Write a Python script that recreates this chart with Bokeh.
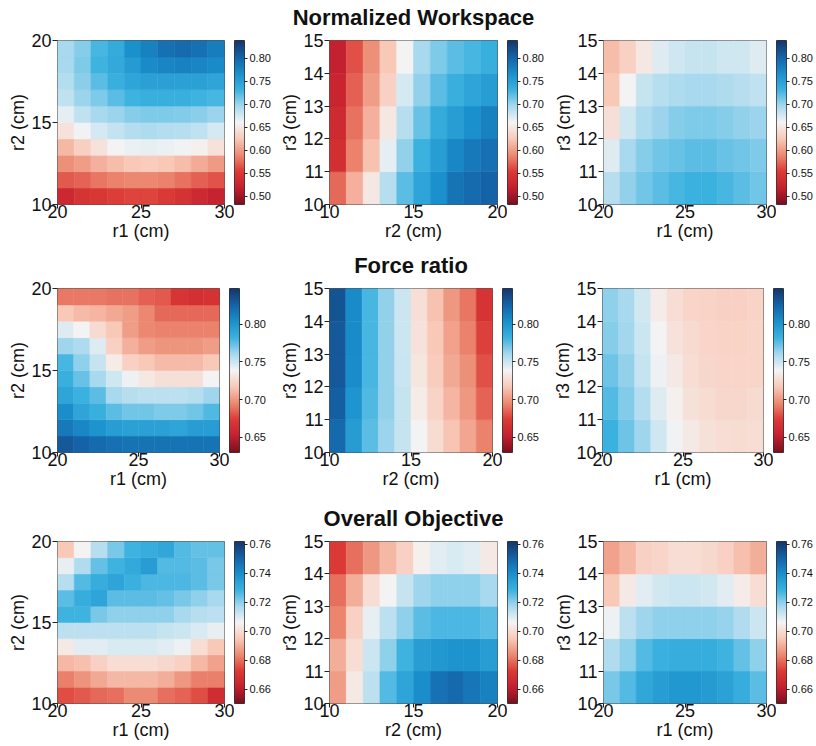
import numpy as np
from bokeh.plotting import figure
from bokeh.models import (LinearColorMapper, FixedTicker, PrintfTickFormatter,
                          ColumnDataSource, Range1d, Title)
from bokeh.layouts import row, column
from bokeh.embed import file_html
from bokeh.resources import INLINE

# ---------------- data ----------------
r1_edges = [20, 21, 22, 23, 24, 25, 26, 27, 28, 29, 30]
r2_edges = [10, 11, 12, 13, 14, 15, 16, 17, 18, 19, 20]
r3_edges = [10, 11, 12, 13, 14, 15]

r1_ticks = [20, 25, 30]
r2_ticks = [10, 15, 20]
r3_ticks = [10, 11, 12, 13, 14, 15]

row_titles = ["Normalized Workspace", "Force ratio", "Overall Objective"]

# value grids: rows listed from the TOP of each panel (highest y) downward
ws_r1_r2 = [
    [0.696, 0.706, 0.728, 0.738, 0.767, 0.777, 0.792, 0.795, 0.792, 0.781],
    [0.696, 0.71, 0.73, 0.74, 0.755, 0.77, 0.775, 0.778, 0.775, 0.77],
    [0.69, 0.705, 0.72, 0.735, 0.745, 0.75, 0.75, 0.75, 0.75, 0.745],
    [0.685, 0.70, 0.71, 0.72, 0.73, 0.735, 0.735, 0.735, 0.73, 0.728],
    [0.668, 0.685, 0.695, 0.70, 0.707, 0.71, 0.71, 0.708, 0.705, 0.70],
    [0.645, 0.662, 0.675, 0.683, 0.69, 0.692, 0.69, 0.688, 0.684, 0.675],
    [0.615, 0.63, 0.645, 0.66, 0.665, 0.666, 0.665, 0.662, 0.657, 0.645],
    [0.592, 0.60, 0.61, 0.618, 0.624, 0.628, 0.624, 0.618, 0.608, 0.598],
    [0.567, 0.572, 0.58, 0.585, 0.588, 0.588, 0.585, 0.578, 0.57, 0.565],
    [0.528, 0.545, 0.55, 0.555, 0.558, 0.558, 0.552, 0.543, 0.53, 0.522],
]
ws_r2_r3 = [
    [0.518, 0.564, 0.592, 0.624, 0.66, 0.696, 0.71, 0.72, 0.728, 0.735],
    [0.525, 0.571, 0.60, 0.632, 0.674, 0.703, 0.72, 0.735, 0.745, 0.752],
    [0.532, 0.578, 0.61, 0.649, 0.688, 0.717, 0.738, 0.752, 0.767, 0.777],
    [0.539, 0.585, 0.621, 0.667, 0.703, 0.731, 0.752, 0.774, 0.785, 0.792],
    [0.575, 0.61, 0.649, 0.688, 0.72, 0.745, 0.767, 0.788, 0.795, 0.802],
]
ws_r1_r3 = [
    [0.617, 0.632, 0.649, 0.671, 0.678, 0.681, 0.681, 0.678, 0.678, 0.671],
    [0.624, 0.66, 0.681, 0.688, 0.692, 0.696, 0.696, 0.692, 0.688, 0.685],
    [0.642, 0.678, 0.692, 0.699, 0.706, 0.71, 0.71, 0.706, 0.703, 0.699],
    [0.671, 0.696, 0.706, 0.713, 0.717, 0.72, 0.72, 0.717, 0.713, 0.71],
    [0.688, 0.703, 0.713, 0.72, 0.728, 0.731, 0.731, 0.728, 0.72, 0.713],
]

fr_r1_r2 = [
    [0.691, 0.691, 0.691, 0.689, 0.689, 0.684, 0.682, 0.669, 0.665, 0.667],
    [0.717, 0.712, 0.71, 0.706, 0.702, 0.695, 0.686, 0.686, 0.686, 0.686],
    [0.745, 0.738, 0.725, 0.717, 0.702, 0.695, 0.693, 0.693, 0.693, 0.693],
    [0.762, 0.758, 0.745, 0.721, 0.708, 0.702, 0.699, 0.699, 0.699, 0.702],
    [0.78, 0.765, 0.752, 0.734, 0.721, 0.717, 0.712, 0.712, 0.712, 0.717],
    [0.784, 0.773, 0.76, 0.749, 0.741, 0.732, 0.728, 0.728, 0.728, 0.739],
    [0.791, 0.782, 0.775, 0.76, 0.756, 0.754, 0.754, 0.754, 0.756, 0.762],
    [0.804, 0.791, 0.784, 0.775, 0.771, 0.771, 0.769, 0.769, 0.771, 0.778],
    [0.814, 0.808, 0.801, 0.795, 0.793, 0.793, 0.793, 0.791, 0.795, 0.795],
    [0.83, 0.825, 0.821, 0.819, 0.817, 0.817, 0.817, 0.817, 0.817, 0.817],
]
fr_r2_r3 = [
    [0.832, 0.806, 0.78, 0.764, 0.75, 0.728, 0.714, 0.70, 0.69, 0.668],
    [0.83, 0.806, 0.78, 0.764, 0.75, 0.73, 0.717, 0.703, 0.693, 0.675],
    [0.83, 0.805, 0.78, 0.764, 0.751, 0.731, 0.719, 0.706, 0.697, 0.68],
    [0.827, 0.80, 0.778, 0.764, 0.752, 0.734, 0.722, 0.71, 0.70, 0.685],
    [0.822, 0.796, 0.775, 0.763, 0.752, 0.738, 0.726, 0.715, 0.705, 0.693],
]
fr_r1_r3 = [
    [0.765, 0.76, 0.748, 0.735, 0.727, 0.723, 0.722, 0.721, 0.721, 0.722],
    [0.767, 0.761, 0.75, 0.738, 0.73, 0.725, 0.723, 0.722, 0.722, 0.723],
    [0.772, 0.764, 0.752, 0.741, 0.733, 0.727, 0.724, 0.723, 0.723, 0.723],
    [0.777, 0.768, 0.757, 0.745, 0.736, 0.729, 0.726, 0.724, 0.724, 0.725],
    [0.782, 0.772, 0.762, 0.749, 0.74, 0.733, 0.729, 0.727, 0.726, 0.727],
]

ob_r1_r2 = [
    [0.695, 0.706, 0.715, 0.722, 0.728, 0.73, 0.732, 0.726, 0.724, 0.724],
    [0.708, 0.716, 0.724, 0.728, 0.731, 0.735, 0.726, 0.726, 0.725, 0.722],
    [0.715, 0.726, 0.73, 0.733, 0.729, 0.727, 0.727, 0.727, 0.725, 0.722],
    [0.725, 0.73, 0.733, 0.725, 0.725, 0.725, 0.724, 0.722, 0.72, 0.717],
    [0.728, 0.728, 0.722, 0.72, 0.72, 0.72, 0.72, 0.717, 0.715, 0.714],
    [0.714, 0.714, 0.714, 0.714, 0.714, 0.714, 0.713, 0.712, 0.71, 0.708],
    [0.703, 0.709, 0.709, 0.71, 0.71, 0.71, 0.709, 0.707, 0.70, 0.695],
    [0.692, 0.693, 0.697, 0.70, 0.70, 0.70, 0.699, 0.697, 0.692, 0.688],
    [0.682, 0.685, 0.689, 0.692, 0.692, 0.692, 0.69, 0.686, 0.682, 0.682],
    [0.675, 0.677, 0.679, 0.68, 0.684, 0.684, 0.68, 0.678, 0.675, 0.667],
]
ob_r2_r3 = [
    [0.672, 0.68, 0.686, 0.692, 0.697, 0.705, 0.709, 0.71, 0.709, 0.703],
    [0.68, 0.69, 0.70, 0.706, 0.713, 0.718, 0.72, 0.72, 0.72, 0.717],
    [0.683, 0.697, 0.708, 0.714, 0.72, 0.725, 0.727, 0.727, 0.727, 0.725],
    [0.69, 0.70, 0.712, 0.72, 0.728, 0.735, 0.737, 0.738, 0.738, 0.735],
    [0.687, 0.703, 0.714, 0.726, 0.733, 0.74, 0.747, 0.749, 0.746, 0.743],
]
ob_r1_r3 = [
    [0.688, 0.692, 0.697, 0.698, 0.70, 0.70, 0.699, 0.697, 0.693, 0.69],
    [0.695, 0.703, 0.709, 0.711, 0.712, 0.712, 0.711, 0.709, 0.704, 0.70],
    [0.707, 0.714, 0.718, 0.72, 0.72, 0.72, 0.72, 0.719, 0.716, 0.712],
    [0.716, 0.72, 0.726, 0.729, 0.73, 0.73, 0.73, 0.728, 0.724, 0.72],
    [0.722, 0.726, 0.732, 0.735, 0.737, 0.737, 0.736, 0.734, 0.73, 0.725],
]

# colour ranges and colour-bar ticks per row
row_ranges = [(0.482, 0.838), (0.630, 0.847), (0.650, 0.762)]
row_cbar_ticks = [
    [0.50, 0.55, 0.60, 0.65, 0.70, 0.75, 0.80],
    [0.65, 0.70, 0.75, 0.80],
    [0.66, 0.68, 0.70, 0.72, 0.74, 0.76],
]

# ---------------- palette (RdBu-like, red low -> blue high) ----------------
anchors = ["#7a1020", "#c42030", "#dc3a35", "#ec8a72", "#f9c9b8", "#f4f4f4",
           "#a8d9ee", "#3cb2e0", "#1a90cc", "#1463a8", "#17366a"]


def hex2rgb(h):
    return np.array([int(h[i:i + 2], 16) for i in (1, 3, 5)], dtype=float)


anc = np.array([hex2rgb(h) for h in anchors])
pos = np.linspace(0, 1, len(anchors))
palette = []
for t in np.linspace(0, 1, 256):
    rgb = [np.interp(t, pos, anc[:, k]) for k in range(3)]
    palette.append("#%02x%02x%02x" % tuple(int(round(c)) for c in rgb))

# ---------------- layout constants (page origin at 0,0) ----------------
FONT = "Liberation Sans"
PAGE_W = 815
frame_x = [[57, 329, 603], [57, 329, 602], [57, 329, 603]]
frame_w = [[167, 168, 163], [162, 163, 161], [167, 168, 163]]
frame_h = [164, 164, 162]
TITLE_H = 30
border_top = [10, 10, 10]
border_bottom = [44, 49, 42]
CB_GAP = 10
CB_W = 10
LEFT_BORDER = 56


def style_text_axis(ax, ticks, lab):
    ax.ticker = FixedTicker(ticks=ticks)
    ax.minor_tick_line_color = None
    ax.major_tick_in = 0
    ax.axis_line_color = None
    ax.major_tick_line_color = "#222222"
    ax.major_label_text_font = FONT
    ax.major_label_text_font_size = "18px"
    ax.major_label_text_color = "#111111"
    ax.axis_label = lab
    ax.axis_label_text_font = FONT
    ax.axis_label_text_font_size = "18px"
    ax.axis_label_text_font_style = "normal"
    ax.axis_label_text_color = "#111111"


def title_strip(ri):
    fx, fw = frame_x[ri][1], frame_w[ri][1]
    t = figure(frame_width=fw, frame_height=1, output_backend="svg",
               toolbar_location=None, x_axis_location=None, y_axis_location=None,
               x_range=Range1d(0, 1), y_range=Range1d(0, 1),
               min_border_left=fx, min_border_right=PAGE_W - fx - fw,
               min_border_top=TITLE_H - 1, min_border_bottom=0)
    t.outline_line_color = None
    t.grid.visible = False
    t.add_layout(Title(text=row_titles[ri], align="center",
                       text_font=FONT, text_font_size="22px",
                       text_font_style="bold", text_color="#111111",
                       standoff=0), "above")
    return t


def panel(grid, xedges, yedges, xticks, yticks, xlabel, ylabel, ri, ci, start):
    lo, hi = row_ranges[ri]
    mapper = LinearColorMapper(palette=palette, low=lo, high=hi)
    fx, fw = frame_x[ri][ci], frame_w[ri][ci]
    p = figure(frame_width=fw, frame_height=frame_h[ri],
               output_backend="svg", toolbar_location=None,
               x_range=Range1d(xedges[0], xedges[-1]),
               y_range=Range1d(yedges[0], yedges[-1]),
               min_border_left=fx - start, min_border_right=CB_GAP,
               min_border_top=border_top[ri], min_border_bottom=border_bottom[ri])
    rows_bottom_up = grid[::-1]
    left, right, bottom, top, val = [], [], [], [], []
    for j, rr in enumerate(rows_bottom_up):
        for i, v in enumerate(rr):
            left.append(xedges[i]); right.append(xedges[i + 1])
            bottom.append(yedges[j]); top.append(yedges[j + 1])
            val.append(v)
    src = ColumnDataSource(dict(left=left, right=right, bottom=bottom, top=top, v=val))
    p.quad(left="left", right="right", bottom="bottom", top="top", source=src,
           fill_color={"field": "v", "transform": mapper},
           line_color={"field": "v", "transform": mapper}, line_width=0.5)
    p.grid.visible = False
    p.outline_line_color = "#555555"
    p.outline_line_width = 1
    style_text_axis(p.xaxis[0], xticks, xlabel)
    style_text_axis(p.yaxis[0], yticks, ylabel)
    p.xaxis[0].major_tick_out = 4
    p.xaxis[0].major_label_standoff = -4
    p.xaxis[0].axis_label_standoff = 0
    p.yaxis[0].major_tick_out = 5
    p.yaxis[0].major_label_standoff = 1
    p.yaxis[0].axis_label_standoff = 0

    # colour bar as its own narrow plot
    cb_x = fx + fw + CB_GAP
    nxt = frame_x[ri][ci + 1] - LEFT_BORDER if ci < 2 else PAGE_W
    cb = figure(frame_width=CB_W, frame_height=frame_h[ri],
                output_backend="svg", toolbar_location=None,
                x_range=Range1d(0, 1), y_range=Range1d(lo, hi),
                x_axis_location=None, y_axis_location="right",
                min_border_left=0, min_border_right=nxt - cb_x - CB_W,
                min_border_top=border_top[ri], min_border_bottom=border_bottom[ri])
    grad = np.linspace(lo, hi, 256).reshape(256, 1)
    cb.image(image=[grad], x=0, y=lo, dw=1, dh=hi - lo, color_mapper=mapper)
    cb.grid.visible = False
    cb.outline_line_color = "#333333"
    ya = cb.yaxis[0]
    ya.ticker = FixedTicker(ticks=row_cbar_ticks[ri])
    ya.formatter = PrintfTickFormatter(format="%.2f")
    ya.minor_tick_line_color = None
    ya.axis_line_color = None
    ya.major_tick_in = 0
    ya.major_tick_out = 3
    ya.major_tick_line_color = "#222222"
    ya.major_label_standoff = 2
    ya.major_label_text_font = FONT
    ya.major_label_text_font_size = "11px"
    ya.major_label_text_color = "#111111"
    return [p, cb], nxt


specs = [
    [(ws_r1_r2, r1_edges, r2_edges, r1_ticks, r2_ticks, "r1 (cm)", "r2 (cm)"),
     (ws_r2_r3, r2_edges, r3_edges, r2_ticks, r3_ticks, "r2 (cm)", "r3 (cm)"),
     (ws_r1_r3, r1_edges, r3_edges, r1_ticks, r3_ticks, "r1 (cm)", "r3 (cm)")],
    [(fr_r1_r2, r1_edges, r2_edges, r1_ticks, r2_ticks, "r1 (cm)", "r2 (cm)"),
     (fr_r2_r3, r2_edges, r3_edges, r2_ticks, r3_ticks, "r2 (cm)", "r3 (cm)"),
     (fr_r1_r3, r1_edges, r3_edges, r1_ticks, r3_ticks, "r1 (cm)", "r3 (cm)")],
    [(ob_r1_r2, r1_edges, r2_edges, r1_ticks, r2_ticks, "r1 (cm)", "r2 (cm)"),
     (ob_r2_r3, r2_edges, r3_edges, r2_ticks, r3_ticks, "r2 (cm)", "r3 (cm)"),
     (ob_r1_r3, r1_edges, r3_edges, r1_ticks, r3_ticks, "r1 (cm)", "r3 (cm)")],
]

blocks = []
for ri, rspec in enumerate(specs):
    start = 0
    children = []
    for ci, s in enumerate(rspec):
        figs, start = panel(*s, ri, ci, start)
        children.extend(figs)
    blocks.append(title_strip(ri))
    blocks.append(row(*children))

layout = column(*blocks)
open("out.html", "w").write(file_html(layout, INLINE))
